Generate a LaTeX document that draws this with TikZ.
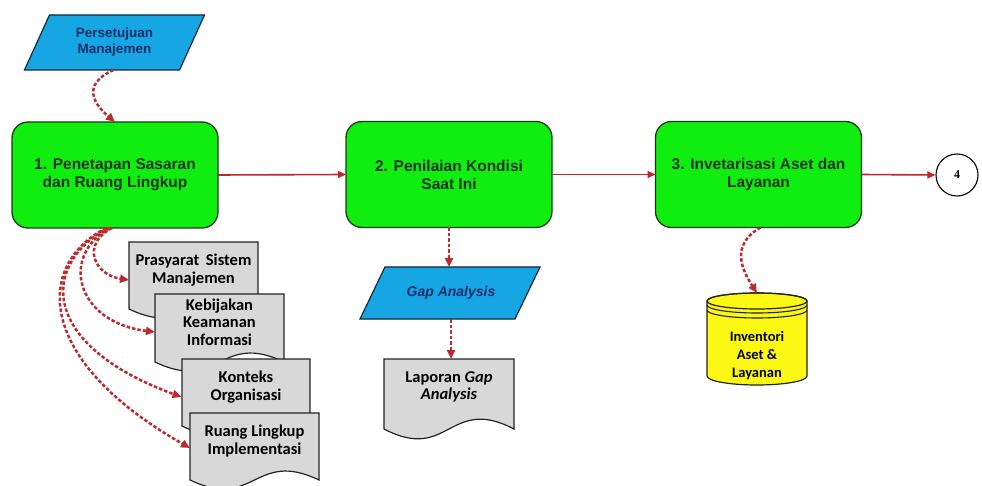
\documentclass[tikz,border=0pt]{standalone}
\usepackage{fontspec}
\setmainfont{Liberation Sans}
\newfontfamily\docfont{Carlito}
\newfontfamily\serfont{Liberation Serif}
\usetikzlibrary{arrows.meta,calc}
\definecolor{procgreen}{RGB}{16,238,16}
\definecolor{procline}{RGB}{25,60,25}
\definecolor{proctext}{RGB}{20,50,20}
\definecolor{parablue}{RGB}{22,166,228}
\definecolor{paraline}{RGB}{20,40,60}
\definecolor{paratxt}{RGB}{18,45,105}
\definecolor{docgray}{RGB}{216,216,216}
\definecolor{docline}{RGB}{35,35,35}
\definecolor{dbyellow}{RGB}{252,248,20}
\definecolor{flowred}{RGB}{192,38,42}
\definecolor{dred}{RGB}{185,45,48}
\newcommand{\docshape}[5]{% x0, top, w, h, k
  \path[docframe] (#1,-#2) -- ({#1+#3},-#2) -- ({#1+#3},{-#2-#4})
    .. controls ({#1+#3/2},{-#2-#4+#5}) and ({#1+#3/2},{-#2-#4-#5}) .. (#1,{-#2-#4}) -- cycle;}
\newcommand{\paragram}[5]{% cx, cy, hw, hh, s
  \path[paraframe] ({#1+#5-#3},{-#2+#4}) -- ({#1+#5+#3},{-#2+#4}) -- ({#1-#5+#3},{-#2-#4}) -- ({#1-#5-#3},{-#2-#4}) -- cycle;}
\tikzset{
  proc/.style={draw=procline, line width=1.3pt, fill=procgreen, rounded corners=16pt,
    minimum width=206pt, minimum height=106pt, align=center, inner sep=0pt, outer sep=0pt,
    font=\fontsize{15.5}{18}\selectfont\bfseries, text=proctext},
  flow/.style={draw=flowred, line width=1.6pt, -{Triangle[length=8pt,width=7pt]}},
  dflow/.style={draw=dred, line width=2.5pt, dash pattern=on 3.5pt off 2pt, -{Triangle[length=9pt,width=8pt]}},
  paraframe/.style={draw=paraline, line width=1.2pt, fill=parablue},
  paratext/.style={align=center, inner sep=0pt, outer sep=0pt, minimum width=120pt,
    font=\fontsize{13.5}{16}\selectfont\bfseries, text=paratxt},
  docframe/.style={draw=docline, line width=1.2pt, fill=docgray},
  doctext/.style={align=center, inner sep=0pt, outer sep=0pt, minimum width=129pt, minimum height=56pt,
    font=\docfont\bfseries\fontsize{16.5}{17.5}\selectfont, text=black},
  dbframe/.style={draw=docline, line width=1.2pt, fill=dbyellow},
  dbtext/.style={align=center, inner sep=0pt, font=\docfont\bfseries\fontsize{14.5}{18}\selectfont, text=black},
  conn/.style={circle, draw=black, line width=1.1pt, fill=white, minimum size=42pt, inner sep=0pt,
    font=\serfont\bfseries\fontsize{12}{14}\selectfont}
}
\begin{document}
\begin{tikzpicture}[x=1pt,y=1pt]
\useasboundingbox (0,0) rectangle (982,-486);
\fill[white] (0,0) rectangle (982,-486);

% process boxes
\node[proc] (b1) at (115,-175) {1. Penetapan Sasaran\\dan Ruang Lingkup};
\node[proc] (b2) at (449,-174.5) {2. Penilaian Kondisi\\Saat Ini};
\node[proc] (b3) at (758.5,-174.5) {\raisebox{-6pt}{\begin{tabular}{@{}c@{}}3. Invetarisasi Aset dan\\Layanan\end{tabular}}};
\node[conn] (c4) at (957,-175) {4};

% parallelograms
\paragram{114.5}{42.5}{77.5}{27.5}{12.5}
\node[paratext, minimum height=55pt] (pm) at (114.5,-42.5) {Persetujuan\\Manajemen};
\paragram{450}{293}{77.5}{26}{12.5}
\node[paratext, minimum height=52pt, font=\fontsize{14}{16}\selectfont\bfseries\itshape] (gp) at (451,-293) {Gap Analysis};

% documents
\docshape{129}{242}{129}{67}{31}
\node[doctext] (d1) at (193.5,-270) {Prasyarat\hspace{0.4em}Sistem\\Manajemen};
\docshape{155}{294}{129}{68}{31}
\node[doctext] (d2) at (219.5,-322) {Kebijakan\\Keamanan\\Informasi};
\docshape{182}{359}{128}{67}{31}
\node[doctext] (d3) at (246,-387) {Konteks\\Organisasi};
\docshape{190}{413}{129}{67}{31}
\node[doctext] (d4) at (254.5,-441) {Ruang Lingkup\\Implementasi};
\docshape{384}{359}{130}{70}{34}
\node[doctext, minimum width=130pt] (lap) at (449,-387) {Laporan \textit{Gap}\\\textit{Analysis}};

% database
\path[dbframe] (707,-301) -- (707,-376) arc (180:360:50pt and 9pt) -- (807,-301) arc (0:180:50pt and 8pt) -- cycle;
\draw[docline, line width=1.2pt] (757,-301) ellipse (50pt and 8pt);
\draw[docline, line width=1.1pt] (707,-305) arc (180:360:50pt and 8pt);
\draw[docline, line width=1.1pt] (707,-310) arc (180:360:50pt and 8pt);
\node[dbtext] (db) at (757,-356) {Inventori\\Aset \&\\Layanan};

% main flow
\draw[flow] (b1.east) -- (b2.west);
\draw[flow] (b2.east) -- (b3.west);
\draw[flow] (b3.east) -- (c4.west);

% dashed flows
\draw[dflow] ($(pm.south)+(-1,0)$) .. controls (80,-85) and (95,-105) .. (b1.north);
\draw[dflow] (b2.south) -- (b2.south |- gp.north);
\draw[dflow] (gp.south) -- (gp.south |- lap.north);
\draw[dflow] ($(b3.south)+(2,0)$) .. controls (730,-245) and (742,-270) .. ($(db.center)+(0,63)$);

\draw[dflow] ($(b1.south)+(-3,0)$) .. controls (80,-245) and (95,-275) .. ($(d1.west)+(0,-10)$);
\draw[dflow] ($(b1.south)+(-5,0)$) .. controls (60,-255) and (75,-322) .. ($(d2.west)+(0,-10)$);
\draw[dflow] ($(b1.south)+(-7,0)$) .. controls (40,-265) and (40,-345) .. ($(d3.west)+(0,-10)$);
\draw[dflow] ($(b1.south)+(-9,0)$) .. controls (35,-265) and (35,-360) .. ($(d4.west)+(0,-7)$);
\end{tikzpicture}
\end{document}
